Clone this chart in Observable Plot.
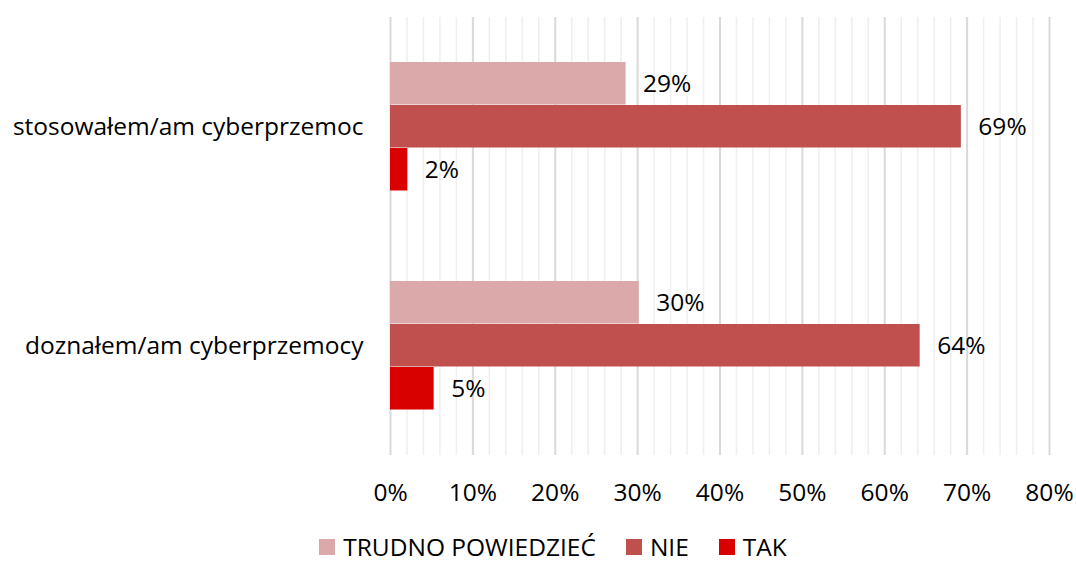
<!DOCTYPE html>
<html>
<head>
<meta charset="utf-8">
<script src="https://cdn.jsdelivr.net/npm/d3@7"></script>
<script src="https://cdn.jsdelivr.net/npm/@observablehq/plot@0.6"></script>
<style>
  body { margin: 0; background: #fff; font-family: "Open Sans", sans-serif; }
  #legend { display: flex; justify-content: center; gap: 30px; font-size: 24.5px; line-height: 30px; color: #000; margin-left: 30px; margin-top: 17px; }
  #legend span.item { display: flex; align-items: center; gap: 8px; }
  #legend i { display: inline-block; width: 16px; height: 16px; }
</style>
</head>
<body>
<div id="chart"></div>
<script>
const categories = ["stosowałem/am cyberprzemoc", "doznałem/am cyberprzemocy"];
const series = ["TRUDNO POWIEDZIEĆ", "NIE", "TAK"];
const colors = ["#dba9a9", "#c0504d", "#d90000"];
const trudno = [28.6, 30.2];
const nie = [69.3, 64.3];
const tak = [2.1, 5.3];
const xTicks = [0, 10, 20, 30, 40, 50, 60, 70, 80];
const minorTicks = d3.range(0, 81, 2).filter(v => v % 10 !== 0);

const rows = [];
categories.forEach((c, i) => {
  rows.push({category: c, series: series[0], value: trudno[i]});
  rows.push({category: c, series: series[1], value: nie[i]});
  rows.push({category: c, series: series[2], value: tak[i]});
});

const FS = 24.5;
const plot = Plot.plot({
  width: 1076,
  height: 515,
  marginTop: 17,
  marginBottom: 60,
  marginLeft: 390,
  marginRight: 27,
  style: {fontFamily: "'Open Sans', sans-serif", fontSize: FS + "px", color: "#000"},
  x: {domain: [0, 80], axis: null},
  y: {domain: series, axis: null, paddingInner: 0, paddingOuter: 0.99},
  fy: {domain: categories, axis: null, padding: 0},
  color: {domain: series, range: colors},
  marks: [
    Plot.ruleX(minorTicks, {stroke: "#efefef", strokeWidth: 1.5}),
    Plot.ruleX(xTicks, {stroke: "#d9d9d9", strokeWidth: 2}),
    Plot.barX(rows, {fy: "category", y: "series", x: "value", fill: "series", insetBottom: 0.5}),
    Plot.text(rows, {fy: "category", y: "series", x: "value", text: d => Math.round(d.value) + "%", textAnchor: "start", dx: 17, fill: "#000", fontSize: FS}),
    Plot.axisFy({anchor: "left", tickSize: 0, tickPadding: 27, label: null, fontSize: FS}),
    Plot.axisX({anchor: "bottom", ticks: xTicks, tickSize: 0, tickPadding: 28, tickFormat: d => d + "%", label: null, fontSize: FS})
  ]
});
document.getElementById("chart").appendChild(plot);

const legend = document.createElement("div");
legend.id = "legend";
series.forEach((s, i) => {
  const item = document.createElement("span");
  item.className = "item";
  const sw = document.createElement("i");
  sw.style.background = colors[i];
  item.appendChild(sw);
  item.appendChild(document.createTextNode(s));
  legend.appendChild(item);
});
document.getElementById("chart").appendChild(legend);
</script>
</body>
</html>
